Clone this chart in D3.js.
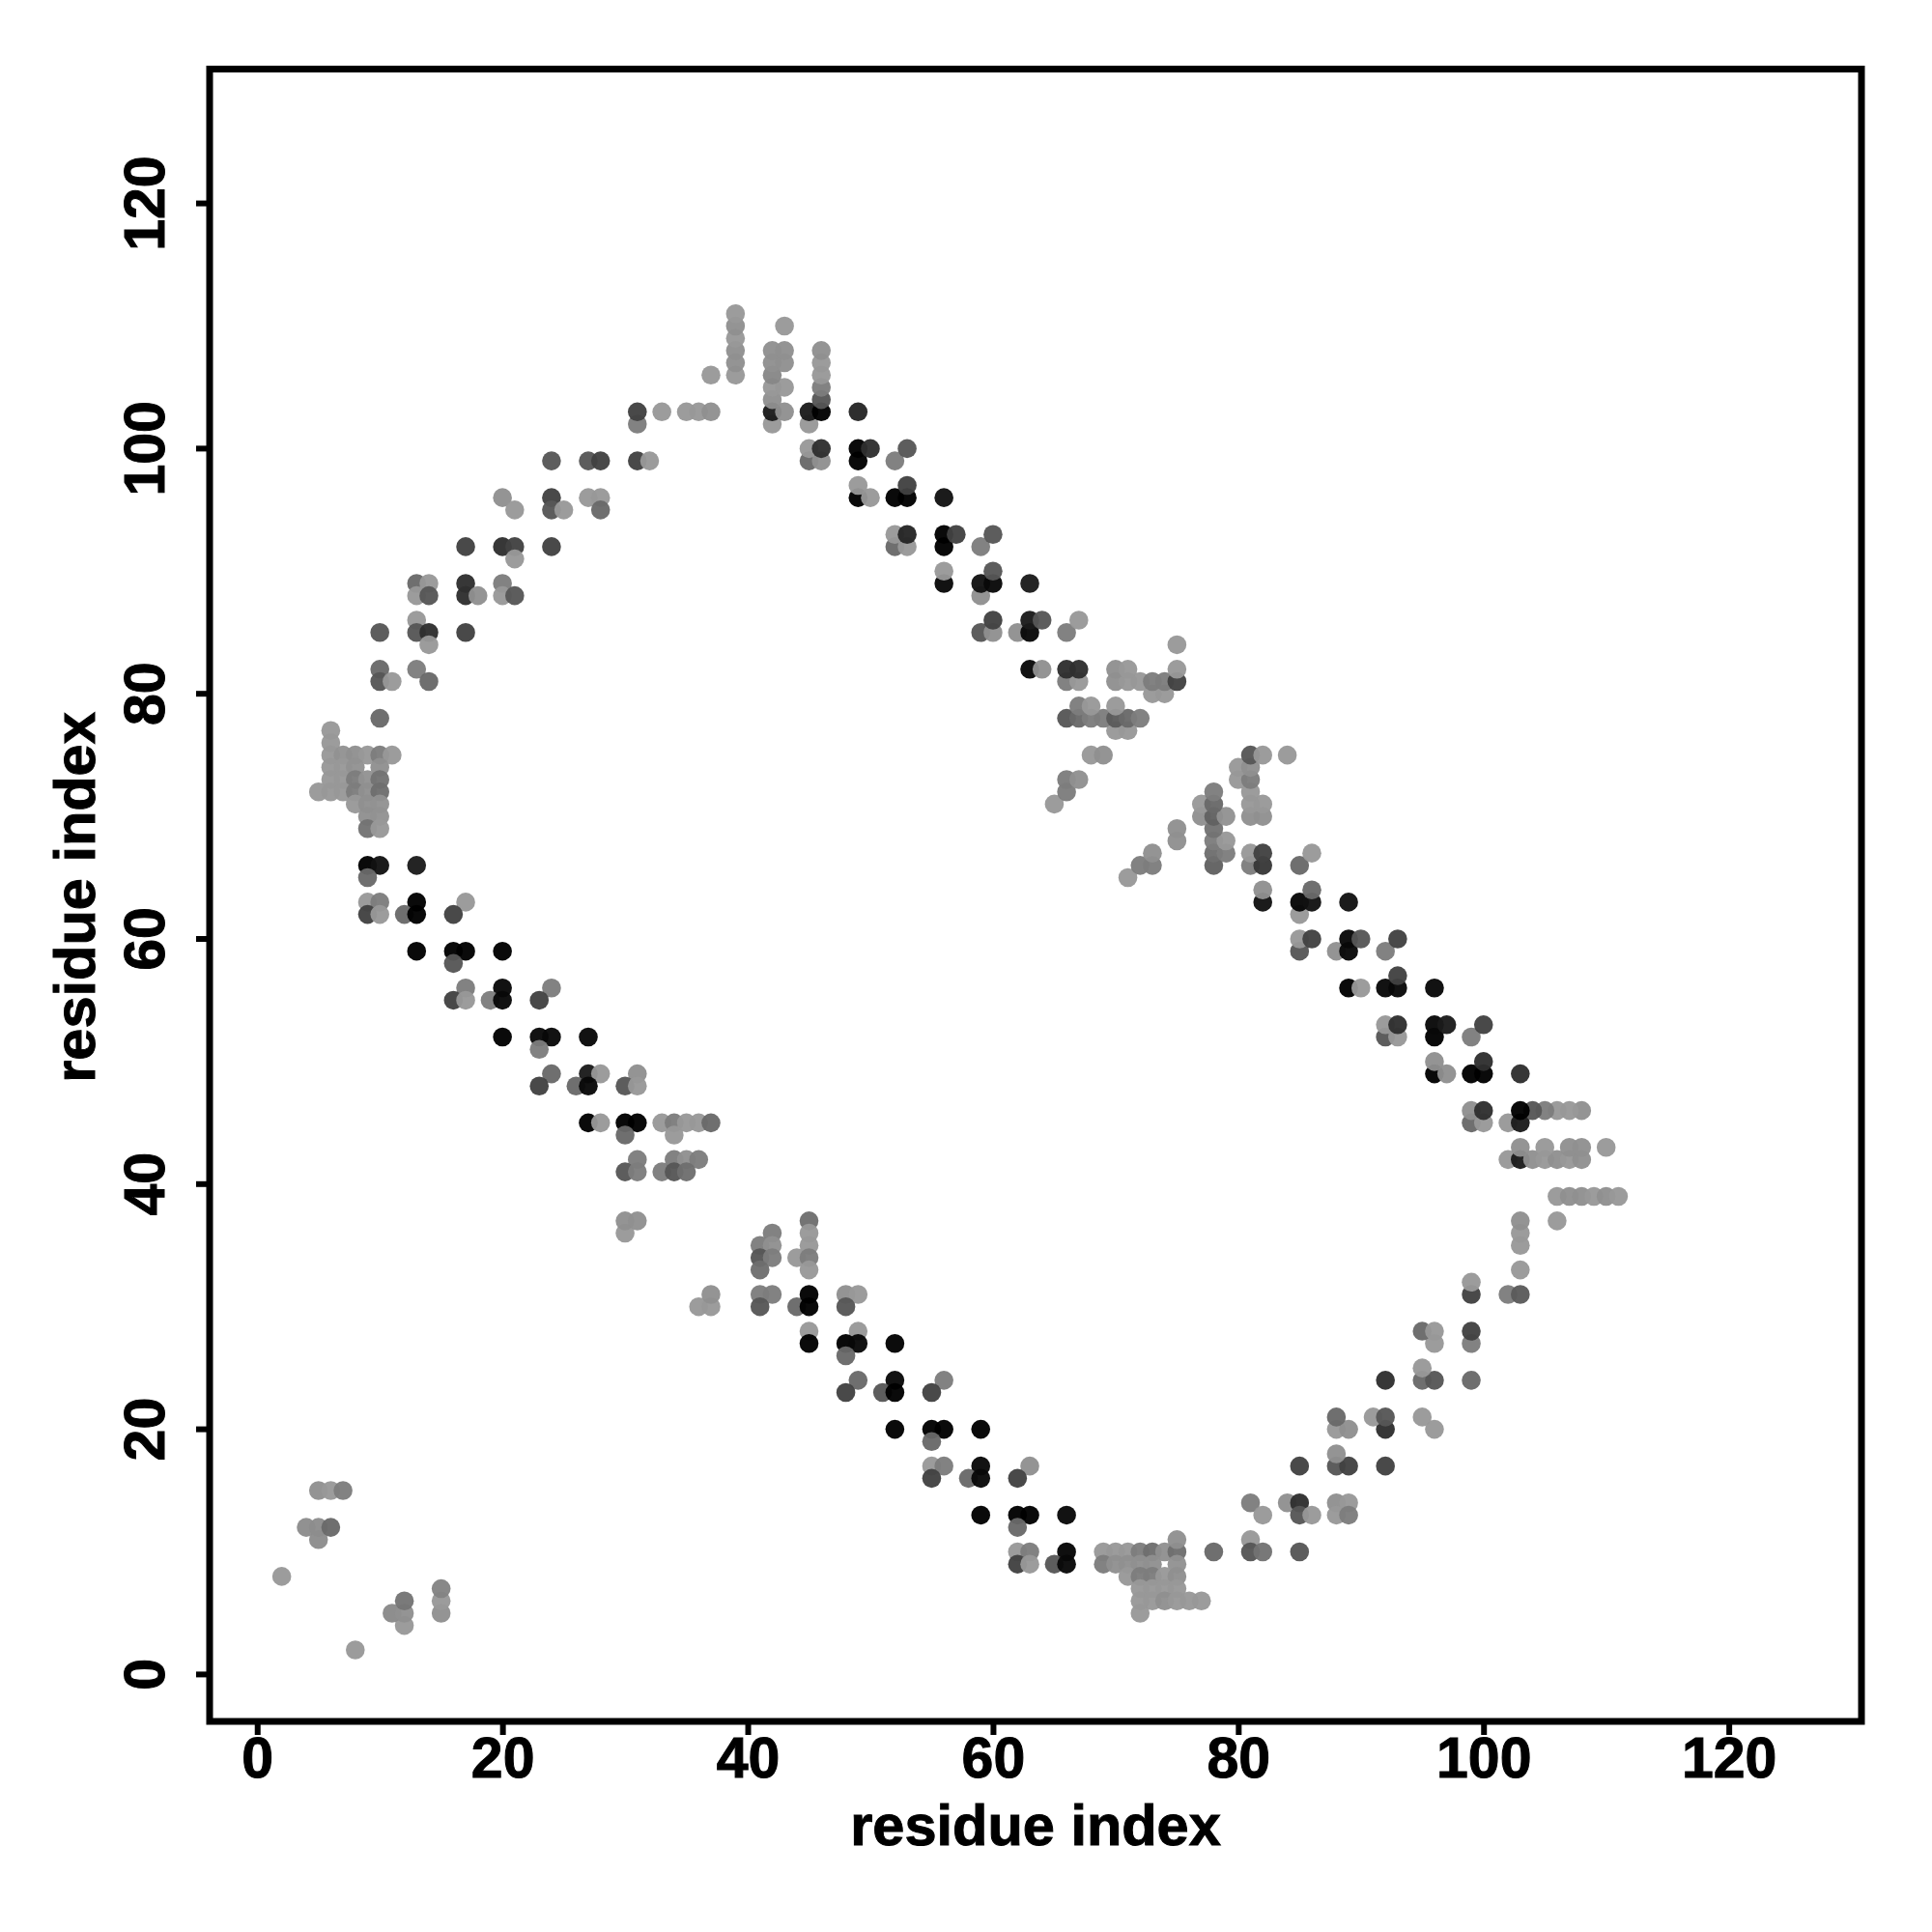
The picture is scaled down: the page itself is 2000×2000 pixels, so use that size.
<!DOCTYPE html>
<html><head><meta charset="utf-8">
<script src="https://d3js.org/d3.v7.min.js"></script>
<style>html,body{margin:0;background:#fff}svg text{font-family:"Liberation Sans",Arial,sans-serif;font-weight:bold;fill:#000;stroke:#000;stroke-width:1px}</style>
</head><body><svg id="c" width="2000" height="2000"></svg>
<script>
// each contact: [residue i, residue j, grey level]
const xTicks=[0,20,40,60,80,100,120], yTicks=[0,20,40,60,80,100,120];
const axisTitle="residue index";
const cornerContacts=[[8,2,143],[12,4,143],[11,5,130],[12,5,136],[15,5,136],[12,6,112],[15,6,143],[15,7,125],[2,8,143],[5,11,133],[4,12,133],[5,12,133],[6,12,102],[5,15,136],[6,15,143],[7,15,119]];
const lowerArc=[[42,36,119],[30,36,143],[30,37,136],[31,37,136],[36,30,143],[37,30,143],[37,31,136],
[41,35,119],[42,35,136],[41,34,85],[42,34,119],[41,33,106],[44,34,143],[45,37,106],[45,36,143],[45,35,143],[45,34,119],[45,33,143],
[41,31,119],[42,31,119],[41,30,85],[44,30,102],[45,31,10],[45,30,10],[48,31,136],[49,31,143],[48,30,85],
[45,28,143],[49,28,143],[45,27,10],[48,27,4],[49,27,17],[52,27,12],[48,26,102],
[49,24,102],[52,24,17],[56,24,119],[48,23,68],[51,23,85],[52,23,10],[55,23,68],
[52,20,10],[55,20,10],[56,20,10],[59,20,10],[55,19,102],
[55,17,143],[56,17,119],[59,17,17],[63,17,136],[55,16,68],[58,16,102],[59,16,17],[62,16,68],
[59,13,10],[62,13,10],[63,13,10],[66,13,17],[62,12,102],
[62,10,143],[63,10,119],[66,10,14],[62,9,68],[63,9,143],[65,9,85],[66,9,17],
[69,10,143],[70,10,143],[71,10,143],[72,10,119],[73,10,106],[74,10,136],[75,10,106],[75,11,136],
[69,9,119],[70,9,136],[71,9,136],[72,9,136],[73,9,136],[75,9,138],
[71,8,143],[72,8,119],[73,8,119],[74,8,143],[75,8,136],
[72,7,143],[73,7,143],[74,7,143],[75,7,143],
[72,6,143],[73,6,143],[74,6,136],[75,6,143],[76,6,143],[77,6,143],[72,5,143]];
const rightArc=[[78,10,102],[81,11,143],[81,10,85],[82,10,110],[85,10,85],
[81,14,119],[84,14,136],[85,14,51],[88,14,136],[89,14,143],[82,13,143],[85,13,85],[86,13,143],[88,13,143],[89,13,119],
[85,17,68],[88,17,85],[89,17,68],[92,17,68],[88,18,136],[88,20,143],[89,20,136],[92,20,51],[96,20,143],
[88,21,102],[91,21,143],[92,21,85],[95,21,143],[92,24,51],[95,24,102],[96,24,85],[99,24,102],[95,25,143],
[96,27,143],[99,27,119],[95,28,102],[96,28,143],[99,28,68],[99,31,68],[102,31,119],[103,31,90],[99,32,143],
[103,33,143],[103,35,143],[103,36,143],[103,37,136],[106,37,143],
[106,39,143],[107,39,136],[108,39,136],[109,39,143],[110,39,136],[111,39,143],
[102,42,143],[103,42,34],[104,42,136],[105,42,143],[106,42,136],[107,42,143],[108,42,136],
[103,43,136],[105,43,143],[107,43,136],[108,43,136],[110,43,143],
[99,45,102],[100,45,143],[102,45,143],[103,45,34],[99,46,136],[100,46,51],
[108,46,136],[107,46,143],[106,46,143],[105,46,119],[104,46,85],[103,46,10],
[96,49,10],[97,49,136],[99,49,10],[100,49,10],[103,49,51],[96,50,136],[100,50,51],
[92,52,85],[93,52,143],[96,52,10],[99,52,119],[92,53,143],[93,53,51],[96,53,17],[97,53,34],[100,53,68],
[89,56,10],[90,56,143],[92,56,17],[93,56,17],[96,56,17],[93,57,68],
[85,59,85],[88,59,136],[89,59,17],[92,59,119],[85,60,143],[86,60,68],[89,60,17],[90,60,85],[93,60,68],
[85,62,143],[82,63,26],[85,63,15],[86,63,26],[89,63,26],[82,64,136],[86,64,102],
[78,66,95],[81,66,119],[82,66,58],[85,66,102],[78,67,106],[79,67,119],[81,67,143],[82,67,68],[86,67,143],
[75,68,136],[78,68,119],[79,68,143],[75,69,136],[78,69,111],
[77,70,136],[78,70,95],[79,70,138],[81,70,136],[82,70,136],[77,71,143],[78,71,102],[81,71,143],[82,71,143],
[78,72,119],[81,72,143],[80,73,143],[81,73,119],[80,74,143],[81,74,136],[81,75,85],[82,75,143],[84,75,143],
[71,65,143],[72,66,119],[73,66,119],[73,67,136]];
const upperArc=[[65,71,143],[66,72,119],[66,73,119],[67,73,136],[68,75,143],[69,75,136],[70,77,143],[71,77,143],
[66,78,85],[67,78,102],[68,78,119],[69,78,119],[70,78,90],[71,78,102],[72,78,119],[67,79,119],[68,79,143],[70,79,143],
[73,80,143],[74,80,143],[66,81,119],[67,81,143],[70,81,136],[71,81,143],[72,81,143],[73,81,119],[74,81,119],[75,81,68],
[63,82,17],[64,82,136],[66,82,51],[67,82,51],[70,82,136],[71,82,143],[75,82,143],[75,84,143],
[59,85,85],[60,85,136],[62,85,136],[63,85,17],[66,85,119],[60,86,68],[63,86,34],[64,86,85],[67,86,143],
[59,88,136],[56,89,17],[59,89,26],[60,89,17],[63,89,34],[56,90,143],[60,90,85],
[52,92,102],[53,92,143],[56,92,10],[59,92,119],[52,93,143],[53,93,42],[56,93,10],[57,93,68],[60,93,85],
[49,96,10],[50,96,143],[52,96,10],[53,96,10],[56,96,26],[49,97,143],[53,97,68],
[45,99,102],[46,99,136],[49,99,10],[52,99,119],[45,100,143],[46,100,51],[49,100,10],[50,100,51],[53,100,85],
[42,102,143],[45,102,143],[31,102,119],[31,103,68],[33,103,143],[35,103,143],[36,103,143],[37,103,136],
[42,103,34],[43,103,136],[45,103,34],[46,103,10],[49,103,42],[42,104,136],[46,104,85],[42,105,143],[43,105,143],[46,105,119],
[37,106,143],[39,106,143],[42,106,128],[46,106,143],[39,107,136],[42,107,136],[43,107,136],[46,107,143],
[39,108,136],[42,108,136],[43,108,136],[46,108,136],[39,109,143],[39,110,136],[43,110,143],[39,111,143]];
const leftArc=[[24,99,85],[27,99,85],[28,99,68],[31,99,68],[32,99,143],[20,96,136],[24,96,68],[27,96,143],[28,96,143],
[21,95,143],[24,95,85],[25,95,143],[28,95,102],[17,92,68],[20,92,51],[21,92,68],[24,92,68],[21,91,143],
[13,89,102],[14,89,143],[17,89,51],[20,89,119],[13,88,143],[14,88,85],[17,88,51],[18,88,136],[20,88,143],[21,88,85],
[13,86,143],[10,85,85],[13,85,85],[14,85,51],[17,85,68],[14,84,143],[10,82,102],[13,82,119],[10,81,85],[11,81,143],[14,81,102],[10,78,102],
[6,77,143],[6,76,143],[6,75,143],[7,75,138],[8,75,136],[9,75,143],[10,75,119],[11,75,143],
[6,74,143],[7,74,143],[8,74,138],[10,74,136],[6,73,143],[7,73,143],[8,73,119],[9,73,138],[10,73,111],
[5,72,143],[6,72,143],[7,72,143],[8,72,119],[9,72,136],[10,72,106],[8,71,143],[9,71,136],[10,71,138],[9,70,136],[10,70,138],[9,69,111],[10,69,143]];
const lowerLeftArc=[[9,66,10],[10,66,26],[13,66,34],[9,65,102],[9,63,143],[10,63,119],[13,63,10],[17,63,143],
[9,62,68],[10,62,143],[12,62,102],[13,62,10],[16,62,68],[13,59,10],[16,59,10],[17,59,10],[20,59,10],[16,58,85],
[17,56,119],[20,56,17],[24,56,119],[16,55,68],[17,55,143],[19,55,119],[20,55,17],[23,55,68],
[20,52,8],[23,52,17],[24,52,17],[27,52,17],[23,51,119],[24,49,102],[27,49,34],[28,49,143],[31,49,136],
[23,48,68],[26,48,102],[27,48,17],[30,48,85],[31,48,143],
[27,45,8],[28,45,143],[30,45,10],[31,45,10],[33,45,143],[34,45,119],[35,45,143],[36,45,143],[37,45,102],
[30,44,102],[34,44,143],[31,42,119],[34,42,119],[35,42,136],[36,42,119],[30,41,85],[31,41,119],[33,41,119],[34,41,85],[35,41,106]];

const contacts=[].concat(cornerContacts,lowerArc,rightArc,upperArc,leftArc,lowerLeftArc);
const x=d3.scaleLinear().domain([-3.8,130.9]).range([218,1928]);
const y=d3.scaleLinear().domain([-3.83,130.96]).range([1782,71.5]);
const grey=d3.scaleLinear().domain([10,143]).range([0,152]).clamp(true);
const svg=d3.select("#c");
svg.append("g").selectAll("circle").data(contacts).join("circle")
  .attr("cx",d=>x(d[0])).attr("cy",d=>y(d[1])).attr("r",9.8)
  .attr("fill",d=>{const g=Math.round(grey(d[2]));return `rgb(${g},${g},${g})`}).attr("fill-opacity",0.96);
svg.append("rect").attr("x",217).attr("y",71.5).attr("width",1710).attr("height",1710.5)
  .attr("fill","none").attr("stroke","#000").attr("stroke-width",7);
const ax=svg.append("g").attr("transform","translate(0,1782)").call(d3.axisBottom(x).tickValues(xTicks).tickSize(14).tickPadding(14));
const ay=svg.append("g").attr("transform","translate(217,0)").call(d3.axisLeft(y).tickValues(yTicks).tickSize(14).tickPadding(14));
[ax,ay].forEach(g=>{g.select(".domain").remove();g.selectAll("line").attr("stroke","#000").attr("stroke-width",6);g.selectAll("text").attr("font-size",59).attr("font-family",null);});
ay.selectAll("g.tick").attr("transform",null);
ay.selectAll("g.tick line").attr("transform",d=>`translate(0,${y(d)})`);
ay.selectAll("g.tick text").attr("text-anchor","middle").attr("x",0).attr("y",0).attr("dy",0)
  .attr("transform",d=>`translate(-47,${y(d)}) rotate(-90)`);
ax.selectAll("text").attr("dy",0).attr("y",58);
svg.append("text").attr("x",1072).attr("y",1910).attr("text-anchor","middle").attr("font-size",59.5).text(axisTitle);
svg.append("text").attr("transform","translate(98,929) rotate(-90)").attr("text-anchor","middle").attr("font-size",59.5).text(axisTitle);
</script></body></html>
